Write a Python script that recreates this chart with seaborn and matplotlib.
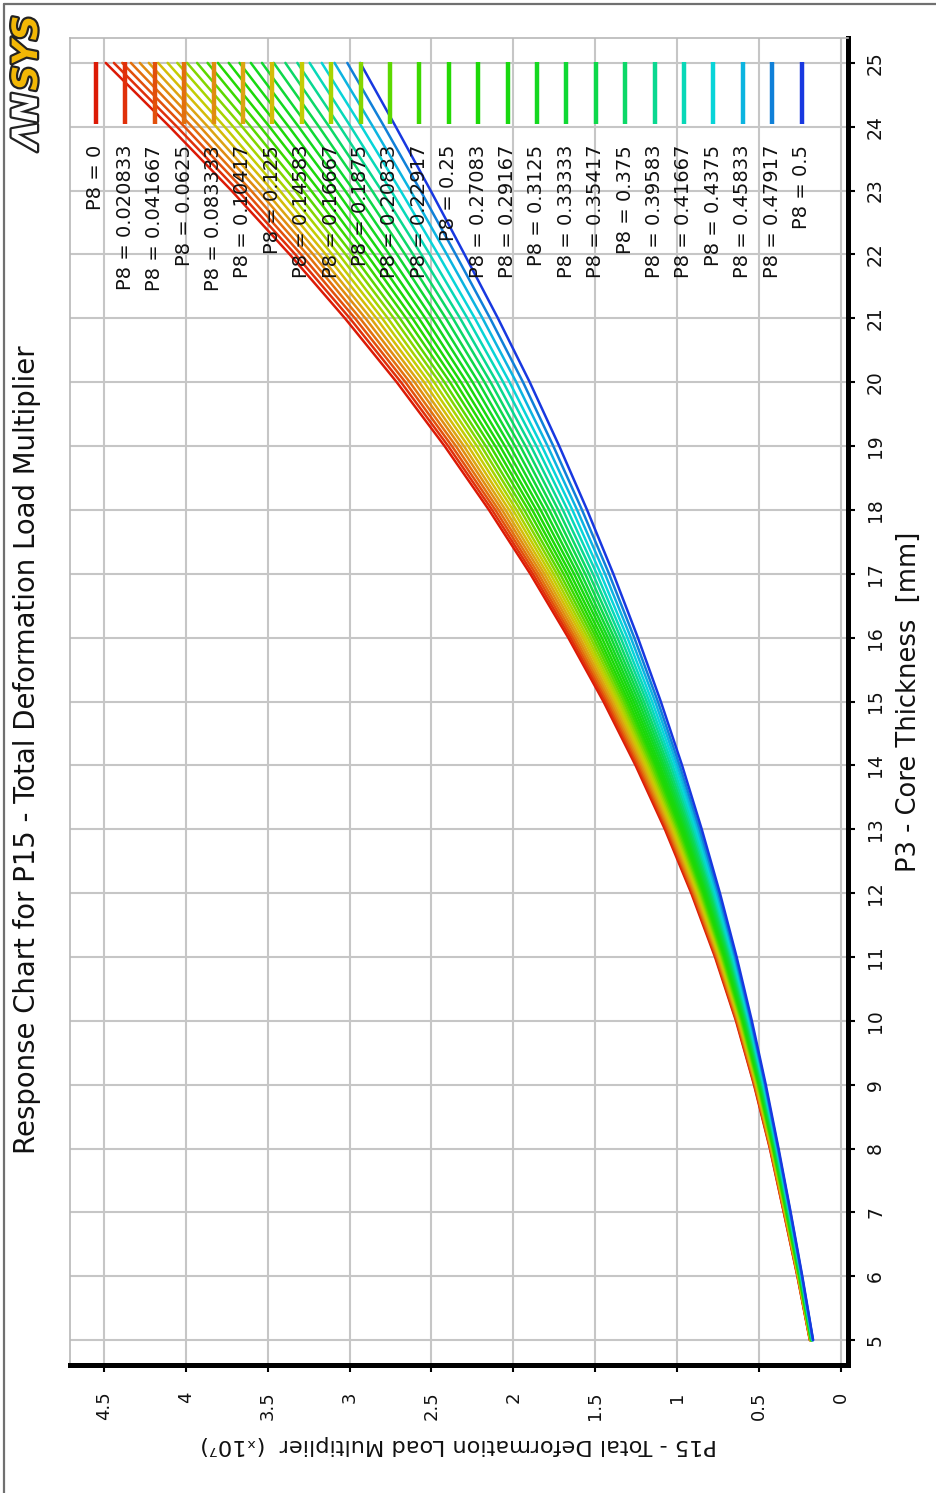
import numpy as np
import pandas as pd
import matplotlib
matplotlib.use("Agg")
import matplotlib.pyplot as plt
import seaborn as sns
from matplotlib import patheffects as pe
from matplotlib.lines import Line2D

# ---------------- data ----------------
thickness = list(range(5, 26))   # P3 - Core Thickness [mm]
p8_values = ["0", "0.020833", "0.041667", "0.0625", "0.083333", "0.10417",
             "0.125", "0.14583", "0.16667", "0.1875", "0.20833", "0.22917",
             "0.25", "0.27083", "0.29167", "0.3125", "0.33333", "0.35417",
             "0.375", "0.39583", "0.41667", "0.4375", "0.45833", "0.47917", "0.5"]

# P15 (x1e7) of every P8 curve, one list per core thickness
p15_t05 = [.190, .189, .189, .188, .187, .187, .186, .185, .184, .184, .183, .182, .181,
           .180, .180, .179, .178, .177, .176, .175, .174, .173, .172, .171, .170]
p15_t06 = [.266, .265, .264, .263, .262, .261, .260, .259, .258, .256, .255, .254, .253,
           .252, .250, .249, .248, .246, .245, .243, .242, .241, .239, .238, .236]
p15_t07 = [.349, .348, .346, .345, .343, .342, .340, .339, .337, .336, .334, .332, .331,
           .329, .327, .325, .323, .321, .319, .317, .315, .313, .311, .309, .307]
p15_t08 = [.434, .432, .431, .429, .427, .425, .423, .421, .419, .417, .415, .413, .411,
           .408, .406, .404, .402, .399, .397, .394, .392, .389, .386, .384, .381]
p15_t09 = [.531, .529, .526, .524, .521, .519, .516, .514, .511, .508, .505, .502, .499,
           .496, .493, .490, .487, .484, .480, .477, .473, .470, .466, .463, .459]
p15_t10 = [.641, .638, .635, .631, .628, .625, .621, .617, .614, .610, .606, .602, .598,
           .594, .590, .586, .581, .577, .573, .568, .563, .559, .554, .549, .544]
p15_t11 = [.769, .765, .760, .756, .751, .747, .742, .737, .732, .727, .722, .716, .711,
           .705, .700, .694, .688, .682, .676, .670, .663, .657, .650, .644, .637]
p15_t12 = [.914, .908, .903, .897, .891, .884, .878, .872, .865, .858, .851, .844, .837,
           .830, .822, .814, .807, .799, .790, .782, .774, .765, .757, .748, .739]
p15_t13 = [1.075, 1.068, 1.060, 1.053, 1.045, 1.037, 1.029, 1.020, 1.012, 1.003, .994, .985,
           .976, .966, .957, .947, .937, .927, .916, .906, .895, .884, .873, .862, .850]
p15_t14 = [1.254, 1.245, 1.236, 1.226, 1.216, 1.206, 1.196, 1.185, 1.174, 1.163, 1.152, 1.140,
           1.129, 1.117, 1.105, 1.092, 1.080, 1.067, 1.054, 1.040, 1.027, 1.013, .999, .985, .970]
p15_t15 = [1.450, 1.439, 1.427, 1.415, 1.403, 1.391, 1.378, 1.365, 1.352, 1.338, 1.324, 1.310,
           1.296, 1.281, 1.266, 1.251, 1.235, 1.219, 1.203, 1.186, 1.170, 1.153, 1.135, 1.118, 1.100]
p15_t16 = [1.665, 1.651, 1.637, 1.623, 1.608, 1.593, 1.577, 1.562, 1.546, 1.529, 1.512, 1.495,
           1.478, 1.460, 1.441, 1.423, 1.404, 1.385, 1.365, 1.345, 1.325, 1.304, 1.283, 1.262, 1.240]
p15_t17 = [1.897, 1.881, 1.864, 1.847, 1.829, 1.811, 1.793, 1.774, 1.755, 1.735, 1.715, 1.694,
           1.673, 1.652, 1.630, 1.608, 1.586, 1.562, 1.539, 1.515, 1.491, 1.467, 1.441, 1.416, 1.390]
p15_t18 = [2.149, 2.130, 2.110, 2.090, 2.069, 2.048, 2.026, 2.003, 1.981, 1.957, 1.934, 1.909,
           1.885, 1.860, 1.834, 1.808, 1.781, 1.754, 1.726, 1.698, 1.669, 1.640, 1.611, 1.581, 1.550]
p15_t19 = [2.420, 2.398, 2.375, 2.351, 2.326, 2.302, 2.276, 2.250, 2.223, 2.196, 2.169, 2.140,
           2.111, 2.082, 2.052, 2.021, 1.990, 1.958, 1.926, 1.893, 1.859, 1.826, 1.791, 1.756, 1.720]
p15_t20 = [2.712, 2.686, 2.659, 2.632, 2.603, 2.575, 2.545, 2.515, 2.484, 2.452, 2.421, 2.387,
           2.354, 2.320, 2.285, 2.249, 2.213, 2.176, 2.139, 2.101, 2.062, 2.023, 1.982, 1.941, 1.900]
p15_t21 = [3.028, 2.998, 2.967, 2.936, 2.903, 2.870, 2.836, 2.801, 2.766, 2.729, 2.693, 2.654,
           2.616, 2.577, 2.537, 2.496, 2.455, 2.412, 2.369, 2.325, 2.280, 2.235, 2.188, 2.142, 2.094]
p15_t22 = [3.365, 3.331, 3.296, 3.259, 3.222, 3.185, 3.145, 3.106, 3.065, 3.024, 2.982, 2.938,
           2.895, 2.850, 2.804, 2.757, 2.710, 2.661, 2.612, 2.562, 2.510, 2.459, 2.406, 2.352, 2.298]
p15_t23 = [3.721, 3.682, 3.642, 3.601, 3.558, 3.516, 3.471, 3.426, 3.379, 3.332, 3.285, 3.235,
           3.185, 3.134, 3.081, 3.028, 2.974, 2.918, 2.863, 2.805, 2.747, 2.689, 2.628, 2.567, 2.505]
p15_t24 = [4.098, 4.054, 4.008, 3.961, 3.913, 3.865, 3.814, 3.763, 3.710, 3.656, 3.603, 3.546,
           3.489, 3.432, 3.372, 3.311, 3.251, 3.187, 3.124, 3.059, 2.993, 2.926, 2.857, 2.788, 2.718]
p15_t25 = [4.489, 4.439, 4.388, 4.335, 4.281, 4.226, 4.169, 4.111, 4.052, 3.992, 3.931, 3.867,
           3.804, 3.738, 3.672, 3.603, 3.535, 3.463, 3.392, 3.319, 3.244, 3.170, 3.092, 3.014, 2.935]

p15_ticks = [0, 0.5, 1, 1.5, 2, 2.5, 3, 3.5, 4, 4.5]
p15_ticklabels = ["0", "0.5", "1", "1.5", "2", "2.5", "3", "3.5", "4", "4.5"]
p3_ticks = list(range(5, 26))

colors = ['#dc1a06', '#e0300a', '#e2500c', '#e2700e', '#e08c10', '#dca412', '#d4bc08',
          '#c4cc04', '#a8d400', '#84d600', '#5cd800', '#3cd800', '#24d804', '#1cd808',
          '#18d810', '#14d820', '#10d834', '#0ed84a', '#0cd868', '#0ad890', '#08d8b8',
          '#08d4d8', '#0cb4e0', '#1080d8', '#1838e0']

title = "Response Chart for P15 - Total Deformation Load Multiplier"
xlabel = "P15 - Total Deformation Load Multiplier  (\u209310\u2077)"
ylabel = "P3 - Core Thickness  [mm]"

# ---------------- build long table ----------------
columns = [p15_t05, p15_t06, p15_t07, p15_t08, p15_t09, p15_t10, p15_t11,
           p15_t12, p15_t13, p15_t14, p15_t15, p15_t16, p15_t17, p15_t18,
           p15_t19, p15_t20, p15_t21, p15_t22, p15_t23, p15_t24, p15_t25]
rows = []
for t, col in zip(thickness, columns):
    for p8, v in zip(p8_values, col):
        rows.append((p8, t, v))
df = pd.DataFrame(rows, columns=["P8", "P3", "P15"])

# ---------------- figure ----------------
sns.set_theme(style="white")
plt.rcParams['font.family'] = ['DejaVu Sans']

W, H = 937, 1493
fig = plt.figure(figsize=(W / 100, H / 100), dpi=100)
fig.patch.set_facecolor('white')
ax = fig.add_axes([70 / W, 1 - 1365 / H, 778 / W, 1327 / H])

sns.lineplot(data=df, x="P15", y="P3", hue="P8", hue_order=p8_values,
             palette=dict(zip(p8_values, colors)), orient="y", estimator=None,
             sort=True, linewidth=1.8, legend=False, ax=ax, zorder=3)

ax.set_xlim(4.707, -0.043)
ax.set_ylim(4.61, 25.39)
ax.set_xticks(p15_ticks)
ax.set_xticklabels(p15_ticklabels)
ax.set_yticks(p3_ticks)
ax.set_yticklabels([str(v) for v in p3_ticks])
ax.yaxis.tick_right()
ax.yaxis.set_label_position('right')

ax.grid(True, color='#c6c6c6', linewidth=1.5)
ax.set_axisbelow(True)

for s in ['left', 'top']:
    ax.spines[s].set_color('#b8b8b8')
    ax.spines[s].set_linewidth(1.2)
for s in ['bottom', 'right']:
    ax.spines[s].set_color('black')
    ax.spines[s].set_linewidth(3.6)
    ax.spines[s].set_visible(True)

ax.tick_params(axis='x', which='both', bottom=True, direction='out', length=5, width=1.5,
               color='black', labelrotation=90, labelsize=13, pad=14, labelcolor='#111111')
ax.tick_params(axis='y', which='both', right=True, left=False, direction='out', length=5,
               width=1.5, color='black', labelrotation=90, labelsize=13.5, pad=8,
               labelcolor='#111111')
for lab in ax.get_yticklabels():
    lab.set_va('center')

ax.set_xlabel(xlabel, rotation=180, fontsize=16.2, labelpad=11, color='#111111')
ax.set_ylabel(ylabel, rotation=90, fontsize=18.5, labelpad=8, color='#111111')

# legend drawn inside the plot, as in the reference
for k, (lab, c) in enumerate(zip(p8_values, colors)):
    xf = (96 + 29.4 * k - 70) / 778
    ax.add_line(Line2D([xf, xf], [0.9819, 0.9352], transform=ax.transAxes, color=c,
                       linewidth=3.2, solid_capstyle='butt', zorder=6))
    ax.text(xf, 0.9194, f"P8 = {lab}", rotation=90, ha='center', va='top',
            transform=ax.transAxes, fontsize=14, color='#111111', zorder=7)

# title
fig.text(27 / W, 1 - 750 / H, title, rotation=90, ha='center', va='center',
         fontsize=19.8, color='#111111')

# ANSYS logo
fig.text(27 / W, 1 - 121 / H, "\u039bN", rotation=90, ha='center', va='center',
         fontsize=25, fontweight='bold', style='italic', color='white',
         path_effects=[pe.withStroke(linewidth=3.2, foreground='#222222')])
fig.text(27 / W, 1 - 53 / H, "SYS", rotation=90, ha='center', va='center',
         fontsize=25, fontweight='bold', style='italic', color='#f2b705',
         path_effects=[pe.withStroke(linewidth=3.2, foreground='#222222')])

# screenshot frame lines (top and left)
fig.add_artist(Line2D([4 / W, 1], [1 - 4 / H, 1 - 4 / H], transform=fig.transFigure,
                      color='#707070', linewidth=1.6))
fig.add_artist(Line2D([4 / W, 4 / W], [0, 1 - 4 / H], transform=fig.transFigure,
                      color='#707070', linewidth=1.6))

fig.savefig("out.png", dpi=100, facecolor='white')
